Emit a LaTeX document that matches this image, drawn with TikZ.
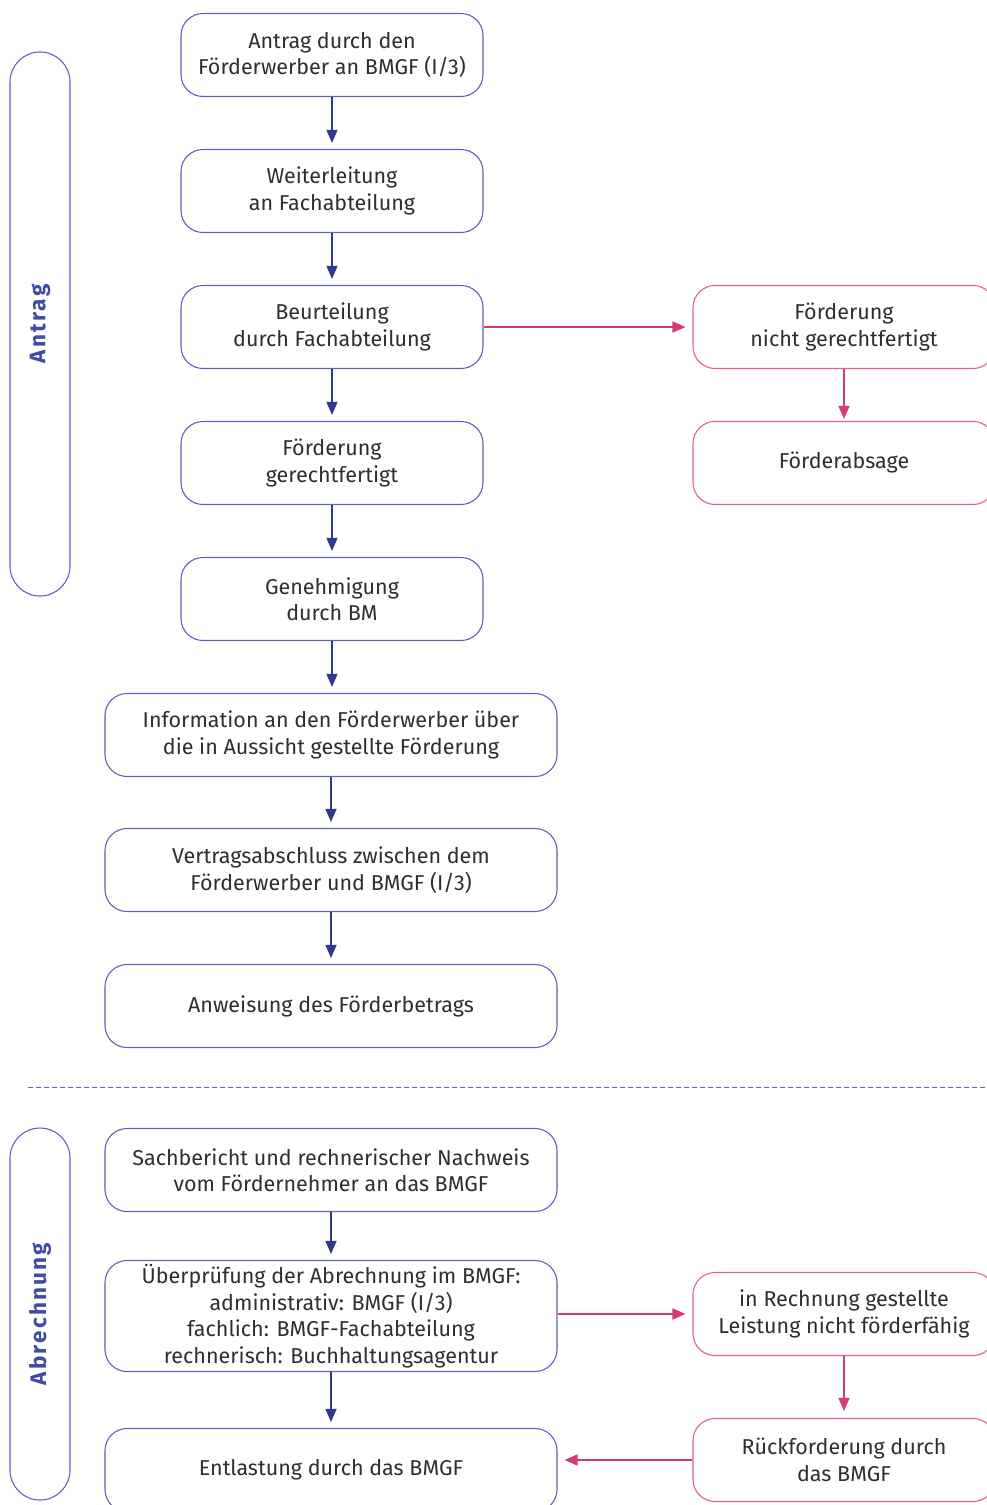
\documentclass[tikz,border=0pt]{standalone}
\usepackage{fontspec}
\setmainfont{Fira Sans}
\setsansfont{Fira Sans}
\usepackage{tikz}
\usetikzlibrary{arrows.meta, positioning}
\definecolor{ink}{HTML}{2E2E33}
\definecolor{frame}{HTML}{5E63B6}
\definecolor{flowblue}{HTML}{2D3A8E}
\definecolor{label}{HTML}{3F4BA6}
\definecolor{rose}{HTML}{E0628C}
\definecolor{flowrose}{HTML}{D43C69}
\tikzset{
  font=\sffamily\fontsize{21.5}{26.5}\selectfont,
  >={Triangle[length=13pt, width=11pt]},
  %
  box/.style={
    draw=frame, line width=1.1pt, fill=white, rounded corners=22pt,
    inner sep=2pt, align=center, text=ink,
    minimum width=302pt, minimum height=83pt,
  },
  boxwide/.style={box, minimum width=452pt},
  boxr/.style={box, draw=rose},
  %
  bar/.style={draw=frame, line width=1.1pt, rounded corners=30pt,
              minimum height=60pt, rotate=90, text=label,
              font=\sffamily\bfseries\fontsize{22.5}{24}\selectfont\addfontfeature{LetterSpace=10}},
  %
  flow/.style={draw=flowblue, line width=1.3pt, ->, shorten >=6pt},
  flowr/.style={draw=flowrose, line width=1.3pt, ->, shorten >=7pt},
  sep/.style={draw=frame, line width=1pt, dash pattern=on 5pt off 3pt},
}
\begin{document}
\begin{tikzpicture}[x=1pt, y=-1pt]
\useasboundingbox (0,0) rectangle (986,1505);

% ---------------------------------------------------------------- side bars
\node[bar, minimum width=544pt] (antrag) at (40,324) {Antrag};
\node[bar, minimum width=372pt] (abrech) at (40,1314) {Abrechnung};

% ---------------------------------------------------------------- antrag
\node[box] (s1) at (332,55) {Antrag durch den\\Förderwerber an BMGF (I/3)};
\node[box] (s2) at (332,191) {Weiterleitung\\an Fachabteilung};
\node[box] (s3) at (332,327) {Beurteilung\\durch Fachabteilung};
\node[box] (s4) at (332,463) {Förderung\\gerechtfertigt};
\node[box] (s5) at (332,599) {Genehmigung\\durch BM};
\node[boxwide] (s6) at (331,735) {Information an den Förderwerber über\\die in Aussicht gestellte Förderung};
\node[boxwide] (s7) at (331,870) {Vertragsabschluss zwischen dem\\Förderwerber und BMGF (I/3)};
\node[boxwide] (s8) at (331,1006) {Anweisung des Förderbetrags};

\node[boxr] (n1) at (844,327) {Förderung\\nicht gerechtfertigt};
\node[boxr] (n2) at (844,463) {Förderabsage};

\foreach \a/\b in {s1/s2,s2/s3,s3/s4,s4/s5,s5/s6,s6/s7,s7/s8}
  { \draw[flow] (\a.south) -- (\a.south |- \b.north); }
\draw[flowr] (s3) -- (n1);
\draw[flowr, shorten >=2pt] (n1) -- (n2);

% ---------------------------------------------------------------- separator
\coordinate (sepa) at (28,1087);
\coordinate (sepb) at (986,1087);
\draw[sep] (sepa) -- (sepb);

% ---------------------------------------------------------------- abrechnung
\node[boxwide] (a1) at (331,1170) {Sachbericht und rechnerischer Nachweis\\vom Fördernehmer an das BMGF};
\node[boxwide, minimum height=111pt] (a2) at (331,1316)
  {Überprüfung der Abrechnung im BMGF:\\administrativ: BMGF (I/3)\\fachlich: BMGF-Fachabteilung\\rechnerisch: Buchhaltungsagentur};
\node[boxwide] (a3) at (331,1470) {Entlastung durch das BMGF};

\node[boxr] (r1) at (844,1314) {in Rechnung gestellte\\Leistung nicht förderfähig};
\node[boxr] (r2) at (844,1460) {Rückforderung durch\\das BMGF};

\draw[flow] (a1) -- (a2);
\draw[flow] (a2.south) -- (a2.south |- a3.north);
\draw[flowr] (a2.east |- r1.west) -- (r1.west);
\draw[flowr] (r1) -- (r2);
\draw[flowr] (r2.west) -- (r2.west -| a3.east);

\end{tikzpicture}
\end{document}
